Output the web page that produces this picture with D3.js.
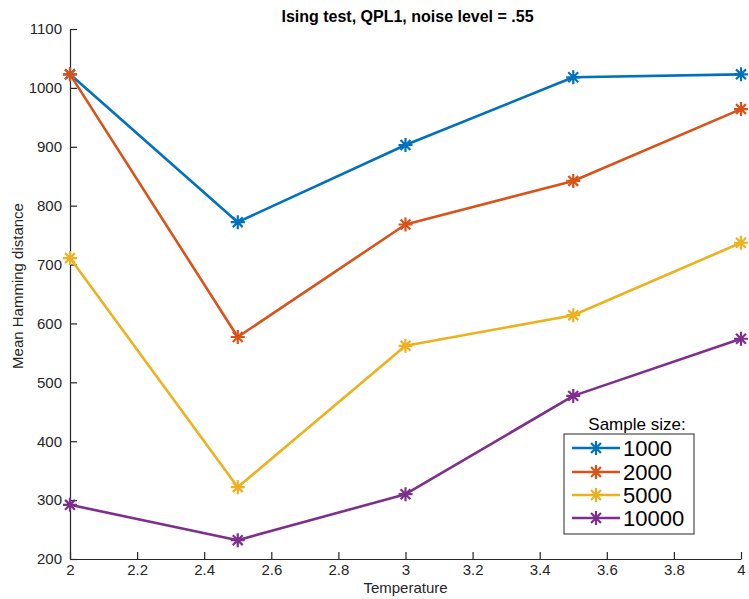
<!DOCTYPE html>
<html>
<head>
<meta charset="utf-8">
<script src="https://cdn.jsdelivr.net/npm/d3@7"></script>
<style>
  body { margin: 0; background: #fff; }
  svg { display: block; font-family: "Liberation Sans", Arial, Helvetica, sans-serif; }
</style>
</head>
<body>
<svg id="chart" width="749" height="599"></svg>
<script>
// Mean Hamming distance versus temperature, one series per sample size
const temperatures = [2, 2.5, 3, 3.5, 4];
const seriesNames = ["1000", "2000", "5000", "10000"];
const size1000  = [1023, 772, 903, 1018, 1023];
const size2000  = [1023, 577, 768, 842, 964];
const size5000  = [711, 322, 562, 614, 737];
const size10000 = [292, 232, 310, 477, 574];
const seriesColors = ["#0072BD", "#D95319", "#EDB120", "#7E2F8E"];
const xTicks = [2, 2.2, 2.4, 2.6, 2.8, 3, 3.2, 3.4, 3.6, 3.8, 4];
const yTicks = [200, 300, 400, 500, 600, 700, 800, 900, 1000, 1100];

const series = [size1000, size2000, size5000, size10000].map((vals, i) => ({
  name: seriesNames[i],
  color: seriesColors[i],
  points: vals.map((v, j) => ({ x: temperatures[j], y: v }))
}));

const svg = d3.select("#chart");
const plot = { left: 70, right: 741, top: 29, bottom: 559 };
const axisColor = "#262626";

const x = d3.scaleLinear().domain([2, 4]).range([plot.left, plot.right]);
const y = d3.scaleLinear().domain([200, 1100]).range([plot.bottom, plot.top]);

// Axes with inward ticks
const xAxis = svg.append("g")
  .attr("transform", `translate(0,${plot.bottom})`)
  .call(d3.axisBottom(x).tickValues(xTicks).tickSizeInner(-7).tickSizeOuter(0)
    .tickPadding(5).tickFormat(d => d3.format("~g")(d)));
const yAxis = svg.append("g")
  .attr("transform", `translate(${plot.left},0)`)
  .call(d3.axisLeft(y).tickValues(yTicks).tickSizeInner(-7).tickSizeOuter(0)
    .tickPadding(8).tickFormat(d3.format("d")));

[xAxis, yAxis].forEach(g => {
  g.attr("font-size", 15).attr("font-family", "'Liberation Sans', Arial, sans-serif");
  g.select(".domain").attr("stroke", axisColor).attr("stroke-width", 1.2);
  g.selectAll(".tick line").attr("stroke", axisColor).attr("stroke-width", 1.2);
  g.selectAll(".tick text").attr("fill", axisColor);
});

// Asterisk marker: plus and cross combined
function asterisk(g, cx, cy, r, color) {
  const d = r * Math.SQRT1_2;
  const path = `M${cx - r},${cy}L${cx + r},${cy}M${cx},${cy - r}L${cx},${cy + r}` +
    `M${cx - d},${cy - d}L${cx + d},${cy + d}M${cx - d},${cy + d}L${cx + d},${cy - d}`;
  g.append("path").attr("d", path).attr("stroke", color)
    .attr("stroke-width", 2.2).attr("fill", "none");
}

const line = d3.line().x(d => x(d.x)).y(d => y(d.y));

const marks = svg.append("g");
series.forEach(s => {
  marks.append("path").datum(s.points)
    .attr("d", line)
    .attr("fill", "none")
    .attr("stroke", s.color)
    .attr("stroke-width", 2.6)
    .attr("stroke-linejoin", "round");
  s.points.forEach(p => asterisk(marks, x(p.x), y(p.y), 7, s.color));
});

// Title and axis labels
svg.append("text")
  .attr("x", (plot.left + plot.right) / 2 + 2)
  .attr("y", 22)
  .attr("text-anchor", "middle")
  .attr("font-size", 16)
  .attr("font-weight", "bold")
  .attr("fill", "#000")
  .text("Ising test, QPL1, noise level = .55");

svg.append("text")
  .attr("x", (plot.left + plot.right) / 2)
  .attr("y", 593)
  .attr("text-anchor", "middle")
  .attr("font-size", 15)
  .attr("fill", axisColor)
  .text("Temperature");

svg.append("text")
  .attr("transform", `translate(23,${(plot.top + plot.bottom) / 2 - 8}) rotate(-90)`)
  .attr("text-anchor", "middle")
  .attr("font-size", 15)
  .attr("fill", axisColor)
  .text("Mean Hamming distance");

// Legend
const legend = svg.append("g");
legend.append("text")
  .attr("x", 637)
  .attr("y", 430)
  .attr("text-anchor", "middle")
  .attr("font-size", 17)
  .attr("fill", "#000")
  .text("Sample size:");

legend.append("rect")
  .attr("x", 564).attr("y", 434)
  .attr("width", 130).attr("height", 100)
  .attr("fill", "#fff")
  .attr("stroke", axisColor)
  .attr("stroke-width", 1);

const rowY = [448, 472, 495, 518];
series.forEach((s, i) => {
  const ry = rowY[i];
  legend.append("line")
    .attr("x1", 572).attr("x2", 620)
    .attr("y1", ry).attr("y2", ry)
    .attr("stroke", s.color).attr("stroke-width", 2.6);
  asterisk(legend, 596, ry, 7, s.color);
  legend.append("text")
    .attr("x", 623)
    .attr("y", ry + 8)
    .attr("font-size", 22)
    .attr("fill", "#000")
    .text(s.name);
});
</script>
</body>
</html>
